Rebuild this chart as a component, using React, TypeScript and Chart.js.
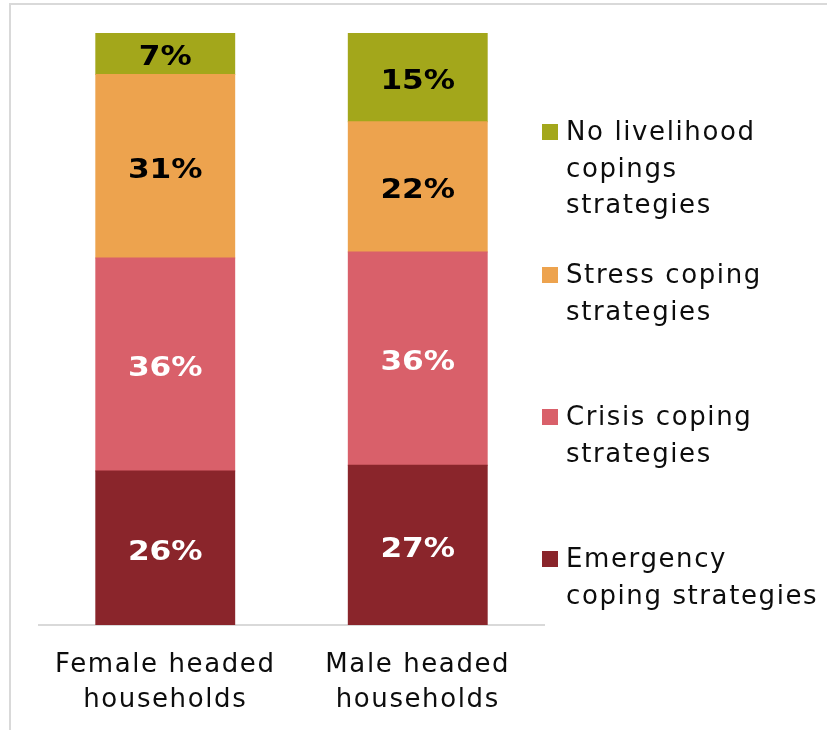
import React, { useEffect, useRef } from "react";
import { Chart, registerables } from "chart.js";

Chart.register(...registerables);

const categories: string[][] = [["Female headed", "households"], ["Male headed", "households"]];
const emergency = [26, 27];
const crisis = [36, 36];
const stress = [31, 22];
const noCoping = [7, 15];

const seriesNames = ["Emergency coping strategies", "Crisis coping strategies", "Stress coping strategies", "No livelihood copings strategies"];
const legendLines = [
  ["No livelihood", "copings", "strategies"],
  ["Stress coping", "strategies"],
  ["Crisis coping", "strategies"],
  ["Emergency", "coping strategies"],
];
const colors = ["#8A252B", "#D9606A", "#EDA34E", "#A3A71B"];
const labelColors = ["#ffffff", "#ffffff", "#000000", "#000000"];
const legendColors = [colors[3], colors[2], colors[1], colors[0]];
const legendTops = [113, 256, 398, 540];

const FONT = '"DejaVu Sans", sans-serif';
const SPACING = 1.6;
const BOLD_STRETCH = 1.2;

const spacingPlugin = {
  id: "spacing",
  beforeDraw(chart: any) {
    chart.ctx.letterSpacing = `${SPACING}px`;
  },
};

const valueLabels = {
  id: "valueLabels",
  afterDatasetsDraw(chart: any) {
    const ctx = chart.ctx;
    chart.data.datasets.forEach((ds: any, di: number) => {
      const meta = chart.getDatasetMeta(di);
      meta.data.forEach((bar: any, i: number) => {
        const v = ds.data[i];
        const cy = (bar.y + bar.base) / 2;
        ctx.save();
        ctx.font = `bold 26px ${FONT}`;
        ctx.letterSpacing = "0px";
        ctx.textAlign = "center";
        ctx.textBaseline = "alphabetic";
        ctx.fillStyle = labelColors[di];
        ctx.translate(bar.x, cy + 11.5);
        ctx.scale(BOLD_STRETCH, 1);
        ctx.fillText(`${v}%`, 0, 0);
        ctx.restore();
      });
    });
  },
};

export default function App() {
  const ref = useRef<HTMLCanvasElement>(null);
  useEffect(() => {
    if (!ref.current) return;
    const data = [emergency, crisis, stress, noCoping];
    const chart = new Chart(ref.current, {
      type: "bar",
      data: {
        labels: categories,
        datasets: data.map((d, i) => ({
          label: seriesNames[i],
          data: d,
          backgroundColor: colors[i],
          borderWidth: 0,
          inflateAmount: 0.5,
          barPercentage: 0.55,
          categoryPercentage: 1,
        })),
      },
      options: {
        animation: false,
        responsive: false,
        devicePixelRatio: 1,
        layout: { padding: { left: 39, right: 283, top: 33, bottom: 0 } },
        plugins: { legend: { display: false }, tooltip: { enabled: false } },
        scales: {
          x: {
            stacked: true,
            grid: { display: false, drawTicks: false },
            border: { display: true, color: "#d9d9d9", width: 2 },
            ticks: {
              color: "#0d0d0d",
              font: { family: FONT, size: 26, lineHeight: 1.33 },
              padding: 23,
              maxRotation: 0,
              autoSkip: false,
            },
            afterFit(scale: any) {
              scale.height = 105;
            },
          },
          y: {
            stacked: true,
            display: false,
            min: 0,
            max: 100,
          },
        },
      },
      plugins: [spacingPlugin, valueLabels],
    });
    return () => chart.destroy();
  }, []);

  return (
    <div style={{ position: "fixed", left: 0, top: 0, width: 827, height: 730, background: "#fff", overflow: "hidden" }}>
      <div
        style={{
          position: "absolute",
          left: 9,
          top: 3,
          width: 900,
          height: 900,
          borderLeft: "2px solid #d9d9d9",
          borderTop: "2px solid #d9d9d9",
        }}
      />
      <canvas ref={ref} width={827} height={730} style={{ position: "absolute", left: 0, top: 0, width: 827, height: 730 }} />
      {legendLines.map((lines, i) => (
        <div key={i} style={{ position: "absolute", left: 542, top: legendTops[i], fontFamily: FONT, fontSize: 26, lineHeight: "36.5px", letterSpacing: `${SPACING}px`, color: "#0d0d0d", whiteSpace: "nowrap" }}>
          <div style={{ position: "absolute", left: 0, top: 11, width: 16, height: 16, background: legendColors[i] }} />
          <div style={{ marginLeft: 24 }}>
            {lines.map((l, j) => (
              <div key={j}>{l}</div>
            ))}
          </div>
        </div>
      ))}
    </div>
  );
}
